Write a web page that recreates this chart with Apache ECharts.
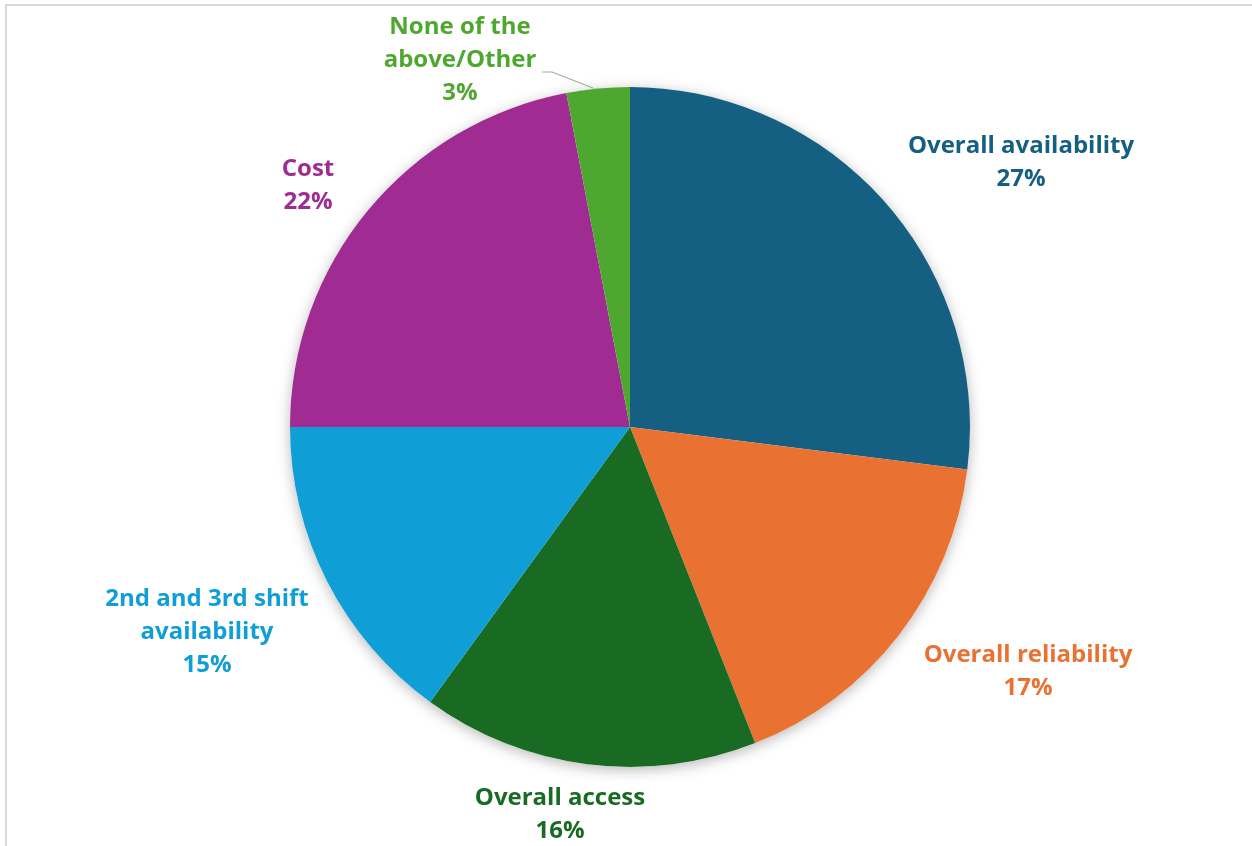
<!DOCTYPE html>
<html>
<head>
<meta charset="utf-8">
<script src="https://cdn.jsdelivr.net/npm/echarts@6/dist/echarts.min.js"></script>
<style>
  html, body { margin: 0; padding: 0; background: #ffffff; }
  #chart { width: 1252px; height: 846px; }
</style>
</head>
<body>
<div id="chart"></div>
<script>
// Reasons given, share of respondents (%)
const categories = [
  'Overall availability',
  'Overall reliability',
  'Overall access',
  '2nd and 3rd shift availability',
  'Cost',
  'None of the above/Other'
];
const values = [27, 17, 16, 15, 22, 3];

// Label text as it wraps on the chart
const labelLines = [
  ['Overall availability'],
  ['Overall reliability'],
  ['Overall access'],
  ['2nd and 3rd shift', 'availability'],
  ['Cost'],
  ['None of the', 'above/Other']
];

const colors = ['#156082', '#E97132', '#196B24', '#0F9ED5', '#A02B93', '#4EA72E'];

// Label anchor points (centre of each text block), in pixels
const labelPos = [
  [1021, 163],
  [1028, 672],
  [560, 815],
  [207, 632],
  [308, 186],
  [460, 60]
];

const chart = echarts.init(document.getElementById('chart'), null, { renderer: 'canvas' });

const data = categories.map((name, i) => ({
  name: name,
  value: values[i],
  itemStyle: { color: colors[i] },
  label: {
    color: colors[i],
    formatter: () => labelLines[i].concat([values[i] + '%']).join('\n')
  },
  labelLine: { show: i === categories.length - 1 }
}));

chart.setOption({
  backgroundColor: '#ffffff',
  animation: false,
  graphic: [{
    type: 'rect',
    shape: { x: 6, y: 5, width: 1400, height: 1000 },
    style: { fill: 'none', stroke: '#d9d9d9', lineWidth: 2 },
    silent: true,
    z: 0
  }],
  series: [
    {
      // soft drop shadow under the disc
      type: 'pie',
      silent: true,
      center: [630, 427],
      radius: 340,
      z: 1,
      label: { show: false },
      labelLine: { show: false },
      itemStyle: {
        color: '#ffffff',
        shadowBlur: 14,
        shadowColor: 'rgba(0,0,0,0.28)',
        shadowOffsetY: 3
      },
      data: [{ value: 1 }]
    },
    {
      type: 'pie',
      center: [630, 427],
      radius: 340,
      startAngle: 90,
      clockwise: true,
      z: 2,
      itemStyle: { borderWidth: 0 },
      label: {
        show: true,
        position: 'outside',
        fontFamily: '"Open Sans", "Liberation Sans", Arial, sans-serif',
        fontWeight: 'bold',
        fontSize: 24,
        lineHeight: 33,
        align: 'center'
      },
      labelLine: {
        length: 10,
        length2: 10,
        lineStyle: { color: '#a6a6a6', width: 1.2 }
      },
      labelLayout: function (params) {
        const p = labelPos[params.dataIndex];
        const out = { x: p[0], y: p[1], align: 'center', verticalAlign: 'middle' };
        if (params.dataIndex === categories.length - 1) {
          out.labelLinePoints = [[593, 88], [552, 72], [542, 72]];
        }
        return out;
      },
      data: data
    }
  ]
});
</script>
</body>
</html>
